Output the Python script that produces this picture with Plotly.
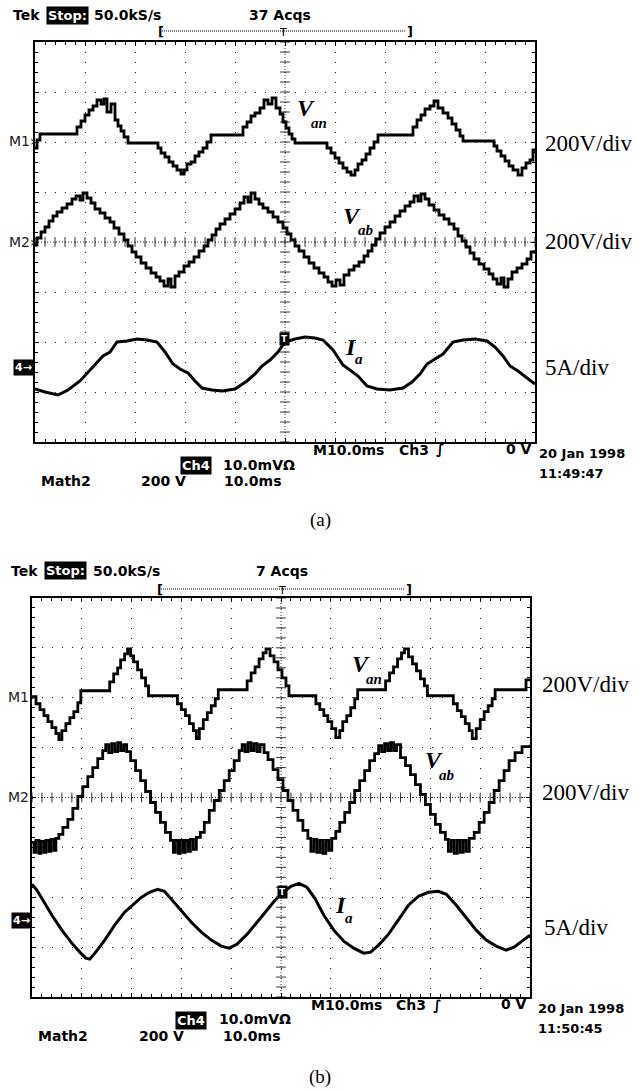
import numpy as np
import plotly.graph_objects as go

W, H = 639, 1090

# ---------------- data (time in ms, voltages in V, current in A) ----------------
# Panel (a)
a_van_t = [0, 0.4, 1.0, 8.4, 9.2, 10.0, 10.8, 11.6, 12.4, 13.2, 13.8, 14.4, 15.2, 16.0, 16.6, 17.2, 17.8, 18.6,
           24.6, 25.2, 26.0, 26.8, 27.6, 28.4, 29.2, 29.8, 30.4, 31.2, 32.0, 32.8, 33.6, 34.4, 35.2,
           41.6, 42.4, 43.2, 44.0, 45.0, 45.8, 46.6, 47.4, 48.2, 49.0, 49.6, 50.2, 50.8, 51.4, 52.0,
           58.4, 59.2, 60.0, 60.8, 61.6, 62.4, 63.2, 64.0, 64.6, 65.4, 66.2, 67.0, 67.8, 68.6,
           75.6, 76.4, 77.2, 78.0, 79.0, 79.8, 80.6, 81.6, 82.6, 83.4, 84.2, 85.0, 85.6,
           91.8, 92.4, 93.2, 94.0, 94.8, 95.6, 96.6, 97.4, 98.2, 99.0, 99.6, 100]
a_van_v = [-24, 8, 32, 60, 84, 108, 128, 144, 168, 152, 172, 120, 152, 88, 64, 44, 20, -4,
           -24, -44, -60, -80, -96, -112, -128, -112, -88, -80, -56, -40, -24, 0, 28,
           60, 80, 104, 116, 136, 168, 152, 176, 136, 112, 80, 56, 32, 12, -4,
           -24, -44, -64, -84, -104, -120, -132, -112, -88, -72, -48, -24, 0, 28,
           60, 88, 108, 132, 144, 164, 136, 116, 96, 72, 48, 24, 4,
           -16, -36, -56, -76, -96, -112, -132, -104, -84, -72, -32, -32]

a_vab_t = [0, 0.4, 1.2, 2.0, 2.8, 3.6, 4.4, 5.4, 6.4, 7.4, 8.2, 9.0, 9.6, 10.4, 11.2, 12.0, 13.0, 14.0, 15.0,
           15.8, 16.8, 17.8, 18.6, 19.4, 20.2, 21.2, 22.2, 23.2, 24.2, 25.0, 25.8, 26.6, 27.2, 28.0, 28.8,
           29.8, 30.8, 31.8, 32.8, 33.8, 34.6, 35.4, 36.2, 37.0, 38.0, 39.0, 40.0, 41.0, 41.8, 42.6, 43.2,
           44.0, 44.8, 45.6, 46.6, 47.6, 48.6, 49.6, 50.4, 51.2, 52.0, 52.8, 53.8, 54.8, 55.8, 56.8, 57.8,
           58.6, 59.4, 60.2, 61.0, 61.8, 62.8, 63.8, 64.8, 65.8, 66.6, 67.4, 68.2, 69.0, 70.0, 71.0, 72.0,
           73.0, 74.0, 75.0, 75.8, 76.6, 77.2, 78.0, 78.8, 79.8, 80.8, 81.8, 82.8, 83.8, 84.6, 85.4, 86.2,
           87.0, 87.8, 88.8, 89.8, 90.8, 91.6, 92.4, 93.2, 93.8, 94.6, 95.4, 96.4, 97.4, 98.4, 99.2, 100]
a_vab_v = [-12, 16, 40, 60, 84, 104, 120, 136, 152, 172, 184, 168, 196, 176, 156, 132, 116, 96, 80,
           56, 32, 8, -16, -40, -60, -84, -104, -124, -140, -156, -176, -148, -180, -136, -120,
           -96, -80, -60, -36, -16, 8, 28, 52, 72, 92, 112, 132, 156, 180, 160, 196,
           172, 152, 136, 120, 100, 80, 56, 32, 8, -16, -36, -60, -84, -104, -124, -140,
           -160, -176, -152, -172, -132, -112, -96, -80, -56, -36, -12, 12, 36, 60, 80, 104,
           124, 144, 160, 184, 164, 192, 172, 148, 128, 108, 92, 72, 52, 24, 4, -20,
           -44, -68, -88, -108, -128, -148, -168, -144, -180, -148, -120, -104, -88, -68, -40, -32]

a_ia_t = [0, 2.0, 4.6, 6.6, 9.0, 10.6, 12.0, 13.6, 15.0, 16.4, 18.4, 20.4, 22.4, 24.4, 26.0, 27.6, 29.0,
          30.6, 32.0, 33.4, 35.4, 37.4, 40.0, 42.4, 44.0, 45.4, 47.0, 48.6, 50.0, 52.0, 54.0, 56.0,
          57.6, 59.6, 61.6, 63.0, 64.6, 66.4, 68.4, 71.0, 73.6, 75.4, 77.0, 78.4, 80.0, 81.6, 83.6,
          85.6, 88.0, 90.4, 92.0, 93.6, 95.0, 96.6, 98.4, 100]
a_ia_i = [-2.2, -2.5, -2.8, -2.3, -1.4, -0.5, 0.3, 1.1, 1.5, 2.5, 2.6, 2.8, 2.7, 2.5, 1.5, 0.3, -0.2,
          -0.6, -1.4, -2.1, -2.3, -2.4, -2.2, -1.4, -0.7, 0.1, 0.7, 1.5, 2.5, 2.8, 3.0, 2.9,
          2.7, 1.7, 0.2, -0.3, -0.9, -1.9, -2.2, -2.3, -2.1, -1.5, -0.7, 0.3, 0.8, 1.3, 2.5,
          2.7, 2.8, 2.6, 2.0, 1.1, 0.1, -0.4, -1.1, -1.7]

# Panel (b)
b_van_t = [0, 0.8, 1.6, 2.4, 3.2, 4.0, 4.8, 5.4, 6.0, 6.8, 7.6, 8.4, 9.2, 9.8,
           15.6, 16.4, 17.2, 17.8, 18.6, 19.2, 19.8, 20.4, 21.2, 22.0, 22.8, 23.4,
           29.2, 30.0, 30.8, 31.6, 32.4, 33.0, 33.6, 34.4, 35.2, 36.0, 36.8, 37.4,
           43.2, 44.0, 44.8, 45.6, 46.4, 47.0, 47.8, 48.6, 49.4, 50.2, 51.0, 51.6,
           57.0, 57.8, 58.6, 59.4, 60.2, 61.0, 61.8, 62.4, 63.2, 64.0, 64.8, 65.4,
           71.0, 71.8, 72.6, 73.4, 74.2, 74.8, 75.6, 76.4, 77.2, 78.0, 78.8, 79.4,
           84.6, 85.4, 86.2, 87.0, 87.8, 88.4, 89.2, 90.0, 90.8, 91.6, 92.4, 93.0, 99.2, 100]
b_van_v = [4, -24, -48, -72, -96, -120, -144, -168, -132, -104, -80, -56, -20, 28,
           64, 96, 120, 152, 176, 196, 168, 144, 112, 80, 48, 8,
           -24, -48, -72, -104, -132, -164, -124, -88, -60, -32, -4, 32,
           68, 100, 124, 156, 180, 196, 168, 144, 112, 80, 48, 8,
           -24, -48, -72, -96, -124, -160, -132, -96, -72, -40, -4, 32,
           68, 100, 124, 156, 180, 196, 164, 136, 108, 76, 48, 8,
           -24, -52, -76, -104, -132, -164, -124, -88, -56, -32, -4, 32, 72, 72]

b_vab_t = [0, 0.4, 0.8, 1.4, 1.8, 2.4, 2.8, 3.4, 3.8, 4.4, 4.8, 5.4, 6.2, 7.2, 8.2, 9.2, 10.2, 11.2, 12.2,
           13.2, 14.2, 14.8, 15.4, 16.0, 16.6, 17.2, 17.8, 18.4, 19.0, 19.8, 20.8, 21.8, 22.8, 23.8, 24.8,
           25.8, 26.8, 27.8, 28.4, 28.8, 29.4, 29.8, 30.4, 30.8, 31.4, 31.8, 32.4, 33.0, 33.8, 34.6, 35.6,
           36.6, 37.6, 38.6, 39.6, 40.6, 41.6, 42.2, 42.8, 43.4, 44.0, 44.6, 45.2, 45.8, 46.6, 47.4, 48.4,
           49.4, 50.4, 51.4, 52.4, 53.4, 54.4, 55.4, 56.0, 56.6, 57.2, 57.8, 58.4, 59.0, 59.6, 60.2, 61.0,
           61.8, 62.8, 63.8, 64.8, 65.8, 66.8, 67.8, 68.8, 69.6, 70.2, 70.8, 71.4, 72.0, 72.6, 73.2, 74.0,
           75.0, 76.0, 77.0, 78.0, 79.0, 80.0, 81.0, 82.0, 83.0, 83.6, 84.2, 84.8, 85.4, 86.0, 86.6, 87.2,
           87.8, 88.8, 89.8, 90.8, 91.8, 92.8, 93.8, 94.8, 95.8, 97.0, 98.4, 100]
b_vab_v = [-180, -220, -172, -224, -176, -220, -172, -216, -168, -212, -164, -148, -120, -88, -44, 4, 44, 84, 120,
           156, 188, 212, 180, 216, 184, 220, 188, 212, 184, 148, 108, 68, 24, -20, -60,
           -100, -140, -172, -220, -172, -224, -172, -220, -172, -216, -168, -208, -160, -140, -100, -52,
           -12, 28, 68, 108, 148, 188, 212, 184, 220, 188, 216, 184, 212, 180, 152, 112,
           72, 28, -12, -52, -92, -132, -164, -216, -168, -220, -172, -224, -172, -212, -164, -136,
           -100, -60, -20, 28, 68, 108, 148, 176, 208, 184, 216, 188, 220, 188, 212, 160,
           128, 92, 52, 12, -28, -68, -108, -140, -168, -216, -172, -224, -172, -220, -172, -216,
           -164, -140, -100, -60, -20, 28, 68, 108, 148, 180, 204, 212]

b_ia_t = [0, 1.0, 2.2, 4.0, 6.0, 8.0, 9.6, 10.8, 11.6, 12.8, 14.6, 16.6, 18.6, 20.6, 22.0, 23.6, 25.2,
          26.6, 28.0, 30.0, 32.0, 34.0, 36.0, 38.0, 39.6, 41.2, 43.2, 45.2, 47.2, 48.8, 50.2, 52.0, 53.6,
          55.2, 56.8, 58.6, 60.6, 62.6, 64.6, 66.6, 68.0, 69.6, 71.6, 73.6, 75.6, 77.6, 79.6, 81.6, 83.2,
          85.2, 87.2, 89.2, 91.2, 93.2, 95.2, 96.8, 98.4, 100]
b_ia_i = [3.8, 3.2, 2.2, 0.7, -0.8, -2.1, -3.0, -3.6, -3.7, -3.0, -1.8, -0.3, 1.0, 1.9, 2.5, 3.0, 3.3,
          3.1, 2.3, 1.1, 0.0, -1.0, -1.8, -2.4, -2.6, -2.2, -1.2, 0.0, 1.2, 2.2, 2.9, 3.6, 3.9,
          3.5, 2.4, 0.7, -0.8, -1.9, -2.6, -3.1, -3.0, -2.3, -1.2, 0.2, 1.7, 2.6, 3.0, 3.1, 2.8,
          1.7, 0.4, -0.8, -1.8, -2.4, -2.8, -2.5, -1.9, -1.3]

# channel settings: offset in divisions, units per division
V_SCALE = 200.0
I_SCALE = 5.0
M1_OFF, M2_OFF, CH4_OFF = 2.0, 0.0, -2.5

SCOPE = "DejaVu Sans"
SERIF = "Liberation Serif"

fig = go.Figure()

def add_trace(t, v, off, scale, xa, ya, shape="linear", width=2.8):
    y = off + np.array(v, dtype=float) / scale
    fig.add_trace(go.Scatter(x=t, y=y, mode="lines", line=dict(color="black", width=width, shape=shape),
                             xaxis=xa, yaxis=ya, hoverinfo="skip", showlegend=False))

for xa, ya in (("x", "y"), ("x2", "y2")):
    # graticule centre-line tick marks
    gx = np.arange(0, 100.01, 2)
    gy = np.arange(-4, 4.01, 0.2)
    fig.add_trace(go.Scatter(x=gx, y=np.zeros_like(gx), mode="markers", xaxis=xa, yaxis=ya,
                             marker=dict(symbol="line-ns", size=7, line=dict(width=1, color="#333")),
                             hoverinfo="skip", showlegend=False))
    fig.add_trace(go.Scatter(x=np.full_like(gy, 50.0), y=gy, mode="markers", xaxis=xa, yaxis=ya,
                             marker=dict(symbol="line-ew", size=7, line=dict(width=1, color="#333")),
                             hoverinfo="skip", showlegend=False))

add_trace(a_van_t, a_van_v, M1_OFF, V_SCALE, "x", "y", "hv")
add_trace(a_vab_t, a_vab_v, M2_OFF, V_SCALE, "x", "y", "hv")
add_trace(a_ia_t, a_ia_i, CH4_OFF, I_SCALE, "x", "y", "linear", 3.0)
add_trace(b_van_t, b_van_v, M1_OFF, V_SCALE, "x2", "y2", "hv")
add_trace(b_vab_t, b_vab_v, M2_OFF, V_SCALE, "x2", "y2", "hv")
add_trace(b_ia_t, b_ia_i, CH4_OFF, I_SCALE, "x2", "y2", "linear", 3.0)

def xax(domain):
    return dict(domain=domain, range=[0, 100], dtick=10, tick0=0, showgrid=True, gridcolor="#222",
                griddash="1px,9px", gridwidth=1, zeroline=False, showline=True, linecolor="black",
                linewidth=1.8, mirror="allticks", ticks="inside", ticklen=4, tickcolor="black",
                showticklabels=False, fixedrange=True,
                minor=dict(dtick=2, ticks="inside", ticklen=3, tickcolor="black", showgrid=False))

def yax(domain):
    return dict(domain=domain, range=[-4, 4], dtick=1, tick0=0, showgrid=True, gridcolor="#222",
                griddash="1px,9px", gridwidth=1, zeroline=False, showline=True, linecolor="black",
                linewidth=1.8, mirror="allticks", ticks="inside", ticklen=4, tickcolor="black",
                showticklabels=False, fixedrange=True,
                minor=dict(dtick=0.2, ticks="inside", ticklen=3, tickcolor="black", showgrid=False))

def px(x):
    return x / W

def py(y):
    return 1 - y / H

ann = []

def A(text, x, y, size=14, family=SCOPE, color="black", xanchor="left", bg=None, pad=1):
    d = dict(text=text, x=px(x), y=py(y), xref="paper", yref="paper", showarrow=False,
             xanchor=xanchor, yanchor="middle", font=dict(family=family, size=size, color=color))
    if bg:
        d.update(bgcolor=bg, borderpad=pad)
    ann.append(d)

shapes = []

# ---- panel (a) texts ----
A("<b>Tek</b>", 11, 15, 14)
A("<b>Stop:</b>", 46, 15, 13, color="white", bg="black")
A("<b>50.0kS/s</b>", 92, 15, 14)
A("<b>37 Acqs</b>", 247, 15, 14)
A("<b>[</b>", 156, 31, 13)
A("<b>]</b>", 405, 31, 13)
A("T", 283, 32, 11, xanchor="center")
shapes.append(dict(type="line", xref="paper", yref="paper", x0=px(160), x1=px(406), y0=py(31), y1=py(31),
                   line=dict(color="black", width=1, dash="1px,1px")))
A("M1›", 7, 141, 14, color="#222")
A("M2›", 7, 242, 14, color="#222")
A("<b>4→</b>", 13, 367, 11, color="white", bg="black")
A("200V/div", 543, 143, 23, SERIF)
A("200V/div", 543, 242, 23, SERIF)
A("5A/div", 543, 367, 23, SERIF)
A("<b><i>V</i></b>", 295, 108, 24, SERIF)
A("<b><i>an</i></b>", 309, 123, 15, SERIF)
A("<b><i>V</i></b>", 341, 216, 24, SERIF)
A("<b><i>ab</i></b>", 356, 230, 15, SERIF)
A("<b><i>I</i></b>", 343, 347, 24, SERIF)
A("<b><i>a</i></b>", 353, 359, 15, SERIF)
A("<b>T</b>", 284, 339, 9, color="white", bg="black", xanchor="center")
A("<b>M10.0ms</b>", 311, 450, 14)
A("<b>Ch3</b>", 397, 450, 14)
A("<b>∫</b>", 434, 450, 14)
A("<b>0 V</b>", 534, 449, 14, xanchor="right")
A("<b>20 Jan 1998</b>", 537, 453, 13)
A("<b>11:49:47</b>", 537, 474, 13)
A("<b>Ch4</b>", 180, 465, 13, color="white", bg="black")
A("<b>10.0mVΩ</b>", 221, 465, 14)
A("<b>Math2</b>", 39, 481, 14)
A("<b>200 V</b>", 139, 481, 14)
A("<b>10.0ms</b>", 222, 481, 14)
A("(a)", 320, 520, 19, SERIF, xanchor="center")

# ---- panel (b) texts ----
A("<b>Tek</b>", 9, 571, 14)
A("<b>Stop:</b>", 44, 571, 13, color="white", bg="black")
A("<b>50.0kS/s</b>", 91, 571, 14)
A("<b>7 Acqs</b>", 254, 571, 14)
A("<b>[</b>", 155, 589, 13)
A("<b>]</b>", 404, 589, 13)
A("T", 282, 590, 11, xanchor="center")
shapes.append(dict(type="line", xref="paper", yref="paper", x0=px(159), x1=px(405), y0=py(589), y1=py(589),
                   line=dict(color="black", width=1, dash="1px,1px")))
A("M1›", 6, 697, 14, color="#222")
A("M2›", 6, 797, 14, color="#222")
A("<b>4→</b>", 11, 920, 11, color="white", bg="black")
A("200V/div", 540, 684, 23, SERIF)
A("200V/div", 540, 792, 23, SERIF)
A("5A/div", 542, 927, 23, SERIF)
A("<b><i>V</i></b>", 350, 664, 24, SERIF)
A("<b><i>an</i></b>", 364, 679, 15, SERIF)
A("<b><i>V</i></b>", 423, 760, 24, SERIF)
A("<b><i>ab</i></b>", 437, 775, 15, SERIF)
A("<b><i>I</i></b>", 333, 905, 24, SERIF)
A("<b><i>a</i></b>", 343, 918, 15, SERIF)
A("<b>T</b>", 282, 892, 9, color="white", bg="black", xanchor="center")
A("<b>M10.0ms</b>", 309, 1005, 14)
A("<b>Ch3</b>", 394, 1005, 14)
A("<b>∫</b>", 431, 1005, 14)
A("<b>0 V</b>", 529, 1004, 14, xanchor="right")
A("<b>20 Jan 1998</b>", 536, 1008, 13)
A("<b>11:50:45</b>", 536, 1028, 13)
A("<b>Ch4</b>", 175, 1020, 13, color="white", bg="black")
A("<b>10.0mVΩ</b>", 217, 1019, 14)
A("<b>Math2</b>", 36, 1036, 14)
A("<b>200 V</b>", 137, 1036, 14)
A("<b>10.0ms</b>", 221, 1036, 14)
A("(b)", 320, 1077, 19, SERIF, xanchor="center")

# centre cross-hair dotted lines
for xr, yr in (("x", "y"), ("x2", "y2")):
    shapes.append(dict(type="line", xref=xr, yref=yr, x0=0, x1=100, y0=0, y1=0,
                       line=dict(color="#333", width=1, dash="1px,2px"), layer="below"))
    shapes.append(dict(type="line", xref=xr, yref=yr, x0=50, x1=50, y0=-4, y1=4,
                       line=dict(color="#333", width=1, dash="1px,2px"), layer="below"))

fig.update_layout(
    width=W, height=H, margin=dict(l=0, r=0, t=0, b=0),
    paper_bgcolor="white", plot_bgcolor="white", showlegend=False,
    xaxis=dict(xax([35 / W, 535 / W]), anchor="y"), yaxis=dict(yax([1 - 442 / H, 1 - 42 / H]), anchor="x"),
    xaxis2=dict(xax([32 / W, 530 / W]), anchor="y2"), yaxis2=dict(yax([1 - 997 / H, 1 - 598 / H]), anchor="x2"),
    annotations=ann, shapes=shapes,
)

fig.write_html("out.html", config={"displayModeBar": False},
               post_script="document.body.style.margin='0';document.body.style.overflow='hidden';")
